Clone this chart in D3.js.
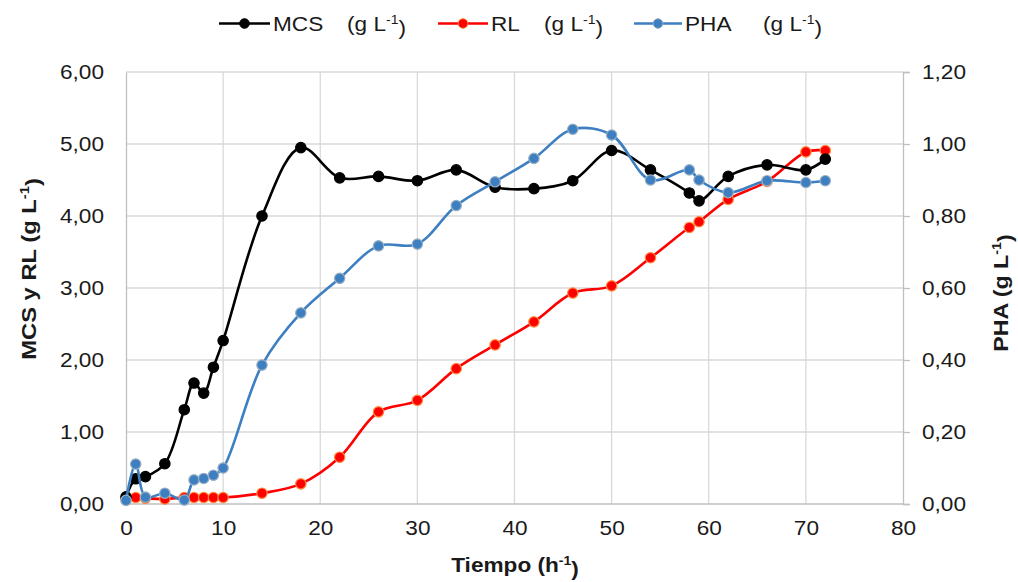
<!DOCTYPE html>
<html><head><meta charset="utf-8">
<script src="https://cdn.jsdelivr.net/npm/d3@7"></script>
<style>body{margin:0;background:#fff}text{font-family:"Liberation Sans",Arial,sans-serif}</style>
</head><body><svg id="c" width="1018" height="582"></svg>
<script>
const time = [0,1,2,4,6,7,8,9,10,14,18,22,26,30,34,38,42,46,50,54,58,59,62,66,70,72];
const mcs  = [0.10,0.35,0.38,0.56,1.31,1.68,1.54,1.90,2.27,4.00,4.95,4.53,4.55,4.49,4.64,4.40,4.38,4.49,4.91,4.64,4.32,4.21,4.55,4.71,4.64,4.79];
const rl   = [0.08,0.09,0.08,0.07,0.09,0.09,0.09,0.09,0.09,0.15,0.28,0.65,1.28,1.44,1.88,2.21,2.53,2.93,3.03,3.42,3.84,3.92,4.23,4.48,4.89,4.91];
const pha  = [0.01,0.111,0.019,0.03,0.011,0.067,0.071,0.08,0.10,0.386,0.531,0.627,0.717,0.722,0.829,0.895,0.960,1.041,1.025,0.90,0.928,0.90,0.865,0.898,0.893,0.898];
const xTicks = [0,10,20,30,40,50,60,70,80];
const yLeftTicks = [0,1,2,3,4,5,6];
const yRightTicks = [0,0.2,0.4,0.6,0.8,1.0,1.2];
const seriesNames = ["MCS","RL","PHA"];

const svg = d3.select("#c");
const L=126, R=903, T=72, B=504;
const SX = 1.16, FS = 19.5;
const x = d3.scaleLinear().domain([0,80]).range([L,R]);
const yL = d3.scaleLinear().domain([0,6]).range([B,T]);
const yR = d3.scaleLinear().domain([0,1.2]).range([B,T]);
const fmt = v => d3.format(".2f")(v).replace(".",",");
const grid = "#d9d9d9", txt = "#1a1a1a";

// gridlines
svg.append("g").selectAll("line").data(yLeftTicks.slice(1)).join("line")
  .attr("x1",L).attr("x2",R).attr("y1",d=>yL(d)).attr("y2",d=>yL(d))
  .attr("stroke",grid).attr("stroke-width",1.3);
svg.append("g").selectAll("line").data(xTicks.slice(1,-1)).join("line")
  .attr("x1",d=>x(d)).attr("x2",d=>x(d)).attr("y1",T).attr("y2",B)
  .attr("stroke",grid).attr("stroke-width",1.3);

// axes
const gl = svg.append("g").attr("transform",`translate(${L},0)`)
  .call(d3.axisLeft(yL).tickValues(yLeftTicks).tickFormat(fmt).tickSize(0).tickPadding(22));
const gr = svg.append("g").attr("transform",`translate(${R},0)`)
  .call(d3.axisRight(yR).tickValues(yRightTicks).tickFormat(fmt).tickSize(7).tickPadding(12));
const gb = svg.append("g").attr("transform",`translate(0,${B})`)
  .call(d3.axisBottom(x).tickValues(xTicks).tickFormat(d3.format("d")).tickSize(0).tickPadding(17));
[gl,gr,gb].forEach(g=>{
  g.selectAll(".domain").attr("stroke","#bfbfbf").attr("stroke-width",1.3);
  g.selectAll(".tick line").attr("stroke","#bfbfbf").attr("stroke-width",1.3);
  g.selectAll("text").attr("font-size",FS).attr("fill",txt)
    .attr("font-family","Liberation Sans, Arial, sans-serif")
    .each(function(){
      const t = d3.select(this);
      const xv = +t.attr("x") || 0;
      t.attr("x", xv/SX).attr("transform",`scale(${SX},1)`);
    });
});
gb.select(".domain").attr("d",`M${L},0H${R}`);

// text helpers
function sup(t, base, unit){
  t.append("tspan").text(base);
  t.append("tspan").attr("font-size","0.62em").attr("dy","-0.55em").text("-1");
  t.append("tspan").attr("dy","0.55em").text(unit);
}
function label(px, py, rot, anchor, size, bold){
  return svg.append("text").attr("x",0).attr("y",0)
    .attr("transform",`translate(${px},${py}) rotate(${rot}) scale(${SX},1)`)
    .attr("text-anchor",anchor).attr("font-size",size)
    .attr("font-weight",bold?"bold":"normal").attr("fill",txt);
}

// axis titles
sup(label(515,572,0,"middle",19.5,true),"Tiempo (h",")");
sup(label(36,269,-90,"middle",20.5,true),"MCS y RL (g L",")");
sup(label(1008,293,-90,"middle",20,true),"PHA (g L",")");

// series
const series = [
  {name:seriesNames[0], vals:mcs, y:yL, color:"#000000", fill:"#000000", stroke:"#000000"},
  {name:seriesNames[1], vals:rl,  y:yL, color:"#ff0000", fill:"#ff0000", stroke:"#ff8a3d"},
  {name:seriesNames[2], vals:pha, y:yR, color:"#3d7fc1", fill:"#3d7fc1", stroke:"#9ab0c4"}
];
const drawOrder = [series[1], series[0], series[2]];
drawOrder.forEach(s=>{
  const pts = time.map((t,i)=>[t,s.vals[i]]);
  const line = d3.line().x(d=>x(d[0])).y(d=>s.y(d[1])).curve(d3.curveCatmullRom.alpha(0.5));
  svg.append("path").datum(pts).attr("d",line).attr("fill","none")
    .attr("stroke",s.color).attr("stroke-width",2.6);
  svg.append("g").selectAll("circle").data(pts).join("circle")
    .attr("cx",d=>x(d[0])).attr("cy",d=>s.y(d[1])).attr("r",5.2)
    .attr("fill",s.fill).attr("stroke",s.stroke).attr("stroke-width",1.2);
});

// legend
const leg = [
  {s:series[0], x0:219, x1:270, tx:273, ux:347},
  {s:series[1], x0:438, x1:488, tx:491, ux:544},
  {s:series[2], x0:634, x1:682, tx:685, ux:763}
];
leg.forEach(l=>{
  const g = svg.append("g");
  g.append("line").attr("x1",l.x0).attr("x2",l.x1).attr("y1",23.5).attr("y2",23.5)
    .attr("stroke",l.s.color).attr("stroke-width",2.6);
  g.append("circle").attr("cx",(l.x0+l.x1)/2).attr("cy",23.5).attr("r",4.8)
    .attr("fill",l.s.fill).attr("stroke",l.s.stroke).attr("stroke-width",1);
  label(l.tx,31,0,"start",FS,false).text(l.s.name);
  sup(label(l.ux,31,0,"start",FS,false),"(g L",")");
});
</script></body></html>
